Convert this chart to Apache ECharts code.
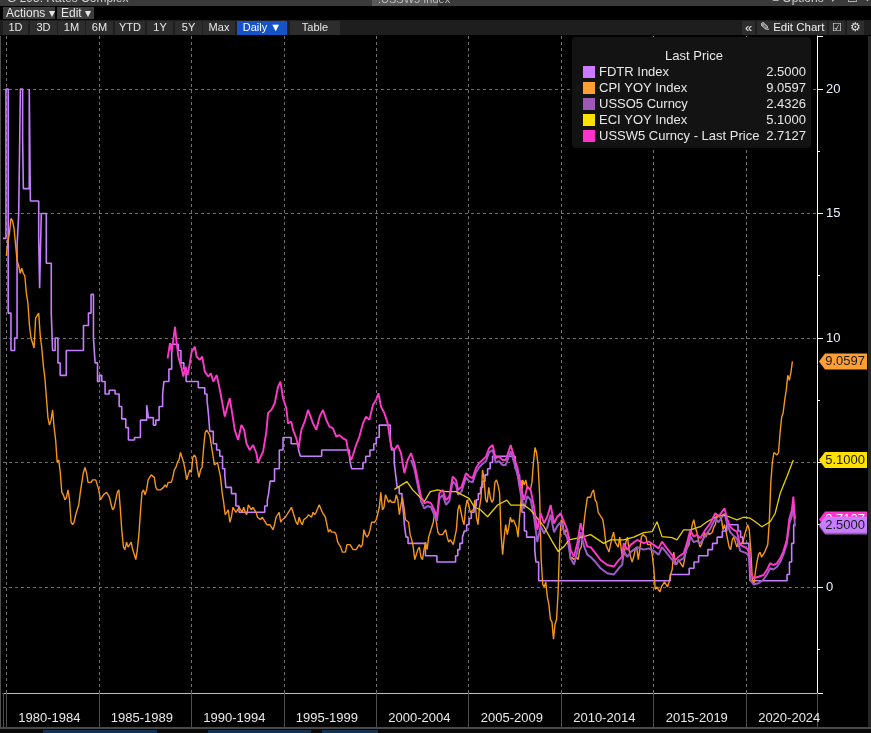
<!DOCTYPE html>
<html><head><meta charset="utf-8">
<script src="https://cdn.jsdelivr.net/npm/echarts@6/dist/echarts.min.js"></script>
<style>html,body{margin:0;padding:0;background:#000;overflow:hidden}#c{width:871px;height:733px}</style>
</head><body><div id="c"></div>
<script>
// ---------------- DATA ----------------
const periodLabels = ['1980-1984','1985-1989','1990-1994','1995-1999','2000-2004','2005-2009','2010-2014','2015-2019','2020-2024'];
const legendNames = ['FDTR Index','CPI YOY Index','USSO5 Curncy','ECI YOY Index','USSW5 Curncy - Last Price'];
const lastPrices = [2.5000, 9.0597, 2.4326, 5.1000, 2.7127];

// Fed funds target (step changes): dates (decimal years) and levels
const fdtrDates = [1979.82,1979.98,1980.10,1980.25,1980.45,1980.58,1980.67,1980.76,1980.88,1980.92,1981.24,1981.30,1981.75,1981.80,1981.89,1982.16,1982.43,1982.50,1982.64,1982.79,1982.91,1983.24,1984.17,1984.44,1984.58,1984.71,1984.80,1984.93,1985.04,1985.16,1985.34,1985.56,1985.88,1986.10,1986.24,1986.46,1986.60,1986.93,1987.25,1987.59,1987.68,1987.95,1988.08,1988.26,1988.45,1988.52,1988.79,1988.94,1989.30,1989.44,1989.60,1989.72,1990.38,1990.73,1990.85,1990.92,1991.00,1991.19,1991.37,1991.54,1991.69,1991.81,1991.87,1992.17,1992.41,1992.58,1993.97,1994.11,1994.18,1994.26,1994.50,1994.76,1994.96,1995.40,1995.80,1995.90,1997.05,1998.55,1998.59,1998.67,1999.28,1999.43,1999.66,1999.87,2000.00,2000.16,2000.76,2000.83,2000.97,2001.05,2001.13,2001.24,2001.39,2001.47,2001.52,2001.61,2001.72,2002.66,2003.28,2004.29,2004.41,2004.52,2004.66,2004.76,2004.89,2005.02,2005.14,2005.29,2005.41,2005.52,2005.64,2005.76,2005.88,2006.02,2006.16,2006.29,2007.51,2007.63,2007.75,2007.86,2007.88,2008.01,2008.13,2008.57,2008.63,2008.78,2015.90,2016.92,2017.18,2017.43,2017.93,2018.18,2018.43,2018.71,2018.95,2019.56,2019.70,2019.81,2020.15,2020.21,2022.21,2022.34,2022.46,2022.57,2022.65];
const fdtrValues = [14.0,20,11.0,9.5,10.0,13.7,15.0,20,18,16,20,15.5,14,12,15,13,11,9.5,10,9,8.5,9.5,10.5,11,11.75,10,9,8.25,8.5,8.25,7.75,7.9,7.75,7.25,6.75,6.4,5.9,6.0,6.7,7.3,6.8,6.5,6.7,7.25,7.75,8.25,8.75,9.75,9.5,9.0,8.75,8.25,8.0,7.75,7.5,7.0,6.25,5.75,5.5,5.25,4.75,4.5,4.0,3.75,3.25,3.0,3.25,3.5,3.75,4.25,4.75,5.5,6.0,5.75,5.5,5.25,5.5,5.25,5.0,4.75,5.0,5.25,5.5,5.75,6.0,6.5,6.0,5.5,5.0,4.5,4.0,3.75,3.5,3.0,2.5,2.0,1.75,1.25,1.0,1.25,1.5,1.75,2.0,2.25,2.5,2.75,3.0,3.25,3.5,3.75,4.0,4.25,4.5,4.75,5.0,5.25,4.75,4.5,4.25,3.5,3.0,2.25,2.0,1.5,1.0,0.25,0.5,0.75,1.0,1.25,1.5,1.75,2.0,2.25,2.5,2.25,2.0,1.75,1.25,0.25,0.5,1.0,1.75,2.5,2.5];

// CPI YoY, monthly, first value = Dec 1979 (plotted at month end)
const cpiFirstYear = 1980;
const cpiValues = [13.3,
13.9,14.2,14.8,14.7,14.4,14.4,13.1,12.9,12.6,12.8,12.6,12.5,
11.8,11.4,10.5,10.0,9.8,9.6,10.8,10.8,11.0,10.1,9.6,8.9,
8.4,7.6,6.8,6.5,6.7,7.1,6.4,5.9,5.0,5.1,4.6,3.8,
3.7,3.5,3.6,3.9,3.5,2.6,2.5,2.6,2.9,2.9,3.3,3.8,
4.2,4.6,4.8,4.6,4.2,4.2,4.2,4.3,4.3,4.3,4.1,3.9,
3.5,3.5,3.7,3.7,3.8,3.8,3.6,3.3,3.1,3.2,3.5,3.8,
3.9,3.1,2.2,1.6,1.5,1.8,1.6,1.6,1.8,1.5,1.3,1.1,
1.5,2.1,3.0,3.8,3.9,3.7,3.9,4.3,4.4,4.5,4.5,4.4,
4.0,3.9,3.9,3.9,3.9,4.0,4.1,4.0,4.2,4.2,4.2,4.4,
4.7,4.8,5.0,5.1,5.4,5.2,5.0,4.7,4.3,4.5,4.7,4.6,
5.2,5.3,5.2,4.7,4.4,4.7,4.8,5.6,6.2,6.3,6.3,6.1,
5.7,5.3,4.9,4.9,5.0,4.7,4.4,3.8,3.4,2.9,3.0,3.1,
2.6,2.8,3.2,3.2,3.0,3.1,3.2,3.1,3.0,3.2,3.0,2.9,
3.3,3.2,3.1,3.2,3.2,3.0,2.8,2.8,2.7,2.8,2.7,2.7,
2.5,2.5,2.5,2.4,2.3,2.5,2.8,2.9,3.0,2.6,2.7,2.7,
2.8,2.9,2.9,3.1,3.2,3.0,2.8,2.6,2.5,2.8,2.6,2.5,
2.7,2.7,2.8,2.9,2.9,2.8,3.0,2.9,3.0,3.0,3.3,3.3,
3.0,3.0,2.8,2.5,2.2,2.3,2.2,2.2,2.2,2.1,1.8,1.7,
1.6,1.4,1.4,1.4,1.7,1.7,1.7,1.6,1.5,1.5,1.5,1.6,
1.7,1.6,1.7,2.3,2.1,2.0,2.1,2.3,2.6,2.6,2.6,2.7,
2.7,3.2,3.8,3.1,3.2,3.7,3.7,3.4,3.5,3.4,3.4,3.4,
3.7,3.5,2.9,3.3,3.6,3.2,2.7,2.7,2.6,2.1,1.9,1.6,
1.1,1.1,1.5,1.6,1.2,1.1,1.5,1.8,1.5,2.0,2.2,2.4,
2.6,3.0,3.0,2.2,2.1,2.1,2.1,2.2,2.3,2.0,1.8,1.9,
1.9,1.7,1.7,2.3,3.1,3.3,3.0,2.7,2.5,3.2,3.5,3.3,
3.0,3.0,3.1,3.5,2.8,2.5,3.2,3.6,4.7,4.3,3.5,3.4,
4.0,3.6,3.4,3.5,4.2,4.3,4.1,3.8,2.1,1.3,2.0,2.5,
2.1,2.4,2.8,2.6,2.7,2.7,2.4,2.0,2.8,3.5,4.3,4.1,
4.3,4.0,4.0,3.9,4.2,5.0,5.6,5.4,4.9,3.7,1.1,0.1,
0.0,0.2,-0.4,-0.7,-1.3,-1.4,-2.1,-1.5,-1.3,-0.2,1.8,2.7,
2.6,2.1,2.3,2.2,2.0,1.1,1.2,1.1,1.1,1.2,1.1,1.5,
1.6,2.1,2.7,3.2,3.6,3.6,3.6,3.8,3.9,3.5,3.4,3.0,
2.9,2.9,2.7,2.3,1.7,1.7,1.4,1.7,2.0,2.2,1.8,1.7,
1.6,2.0,1.5,1.1,1.4,1.8,2.0,1.5,1.2,1.0,1.2,1.5,
1.6,1.1,1.5,2.0,2.1,2.1,2.0,1.7,1.7,1.7,1.3,0.8,
-0.1,0.0,-0.1,-0.2,0.0,0.1,0.2,0.2,0.0,0.2,0.5,0.7,
1.4,1.0,0.9,1.1,1.0,1.0,0.8,1.1,1.5,1.6,1.7,2.1,
2.5,2.7,2.4,2.2,1.9,1.6,1.7,1.9,2.2,2.0,2.2,2.1,
2.1,2.2,2.4,2.5,2.8,2.9,2.9,2.7,2.3,2.5,2.2,1.9,
1.6,1.5,1.9,2.0,1.8,1.6,1.8,1.7,1.7,1.8,2.1,2.3,
2.5,2.3,1.5,0.3,0.1,0.6,1.0,1.3,1.4,1.2,1.2,1.4,
1.4,1.7,2.6,4.2,5.0,5.4,5.4,5.3,5.4,6.2,6.8,7.0,
7.5,7.9,8.5,8.3,8.6,9.0597];

// ECI YoY
const eciDates = [2000.98,2001.66,2001.97,2002.33,2002.60,2002.92,2003.32,2003.77,2004.31,2004.67,2005.02,2005.29,2005.65,2006.02,2006.56,2007.06,2007.27,2007.63,2007.99,2008.35,2008.71,2009.07,2009.52,2009.84,2010.15,2010.42,2010.87,2011.23,2011.59,2012.30,2012.67,2013.38,2013.92,2014.46,2014.91,2015.18,2015.45,2015.99,2016.26,2016.62,2016.98,2017.52,2017.88,2018.33,2018.78,2019.14,2019.50,2019.86,2020.22,2020.49,2020.85,2021.30,2021.57,2021.84,2022.20,2022.55];
const eciValues = [3.92,4.23,3.9,3.63,3.43,3.83,3.9,3.83,3.83,3.69,3.56,3.22,3.09,2.82,3.29,3.49,3.29,3.29,3.29,3.09,2.76,2.42,1.82,1.42,1.62,1.89,1.96,2.02,2.1,1.75,1.89,1.89,2.0,2.18,2.22,2.62,2.02,1.98,1.89,2.29,2.29,2.42,2.62,2.8,2.89,2.8,2.69,2.8,2.76,2.62,2.42,2.62,2.96,3.76,4.43,5.1];

// USSW5 (5y swap)
const ussw5Dates = [1988.72,1988.85,1988.94,1989.12,1989.21,1989.30,1989.39,1989.48,1989.57,1989.69,1989.80,1989.92,1990.02,1990.19,1990.29,1990.46,1990.59,1990.73,1990.92,1991.06,1991.19,1991.37,1991.49,1991.60,1991.81,1992.00,1992.08,1992.21,1992.35,1992.53,1992.71,1992.86,1992.98,1993.16,1993.34,1993.52,1993.61,1993.75,1993.88,1994.06,1994.15,1994.33,1994.51,1994.69,1994.82,1994.96,1995.14,1995.23,1995.41,1995.50,1995.68,1995.80,1995.95,1996.13,1996.31,1996.45,1996.58,1996.76,1996.94,1997.12,1997.30,1997.47,1997.66,1997.84,1998.01,1998.20,1998.38,1998.50,1998.65,1998.74,1998.91,1999.09,1999.28,1999.45,1999.63,1999.82,1999.99,2000.12,2000.26,2000.44,2000.62,2000.80,2000.98,2001.16,2001.34,2001.52,2001.70,2001.88,2002.06,2002.24,2002.42,2002.60,2002.78,2002.96,2003.14,2003.28,2003.41,2003.59,2003.77,2003.95,2004.13,2004.31,2004.43,2004.62,2004.85,2005.02,2005.21,2005.39,2005.56,2005.75,2005.93,2006.10,2006.29,2006.46,2006.64,2006.83,2007.00,2007.27,2007.45,2007.64,2007.81,2007.99,2008.17,2008.35,2008.53,2008.71,2008.89,2009.07,2009.25,2009.43,2009.61,2009.79,2009.97,2010.15,2010.33,2010.51,2010.69,2010.87,2011.05,2011.23,2011.41,2011.59,2011.86,2012.13,2012.49,2012.85,2013.11,2013.30,2013.38,2013.57,2013.75,2014.11,2014.46,2014.73,2015.00,2015.27,2015.45,2015.72,2015.99,2016.17,2016.35,2016.62,2016.80,2016.98,2017.16,2017.34,2017.52,2017.79,2018.06,2018.33,2018.51,2018.69,2018.83,2018.96,2019.14,2019.32,2019.50,2019.68,2019.86,2020.04,2020.18,2020.25,2020.40,2020.67,2020.94,2021.12,2021.30,2021.47,2021.66,2021.84,2022.01,2022.20,2022.34,2022.47,2022.55,2022.64];
const ussw5Values = [9.18,9.79,9.45,10.45,9.8,9.25,9.0,8.78,8.45,8.85,8.51,8.98,9.45,9.65,9.25,9.12,9.25,8.65,8.45,8.58,8.25,8.51,8.11,7.71,6.84,7.38,7.58,6.98,6.31,5.9,6.51,6.31,5.77,5.5,5.7,5.37,4.97,5.23,5.43,6.24,6.98,7.11,7.38,8.04,8.25,7.58,7.18,6.57,6.64,6.31,5.97,5.57,6.31,6.64,7.11,6.84,6.57,6.31,6.84,7.11,6.71,6.44,6.37,6.04,6.1,5.97,5.9,5.37,5.1,5.3,5.7,6.04,6.57,6.84,6.71,7.31,7.51,7.78,7.24,6.98,6.57,5.64,5.5,5.7,5.37,4.57,5.1,5.37,4.97,4.3,3.63,3.36,3.43,3.36,3.09,2.82,3.76,3.9,3.49,3.63,4.43,4.3,3.9,4.03,4.57,4.43,4.37,4.77,4.97,5.1,5.23,5.57,5.7,5.17,5.23,5.1,5.1,5.7,5.23,4.77,4.03,3.49,4.03,3.9,3.22,2.29,2.96,2.56,2.82,3.29,2.56,2.82,2.96,2.62,2.29,1.49,1.22,1.76,2.56,2.02,1.62,1.6,1.35,1.08,0.88,0.82,1.08,1.22,1.76,1.49,1.69,1.89,1.76,1.82,1.69,1.55,1.82,1.55,1.29,1.08,1.22,1.35,1.76,2.29,2.02,2.09,1.96,2.29,2.56,2.96,2.82,3.02,3.16,2.76,2.42,2.29,2.22,1.69,1.62,1.55,1.35,0.55,0.35,0.41,0.48,0.68,0.95,0.88,0.95,1.15,1.42,1.89,2.76,3.09,3.63,2.7127];

// USSO5 (5y OIS)
const usso5Dates = [2001.88,2002.06,2002.24,2002.42,2002.60,2002.78,2002.96,2003.14,2003.28,2003.41,2003.59,2003.77,2003.95,2004.13,2004.31,2004.43,2004.62,2004.85,2005.02,2005.21,2005.39,2005.56,2005.75,2005.93,2006.10,2006.29,2006.46,2006.64,2006.83,2007.00,2007.27,2007.45,2007.64,2007.81,2007.99,2008.17,2008.35,2008.53,2008.71,2008.89,2009.07,2009.25,2009.43,2009.61,2009.79,2009.97,2010.15,2010.33,2010.51,2010.69,2010.87,2011.05,2011.23,2011.41,2011.59,2011.86,2012.13,2012.49,2012.85,2013.11,2013.30,2013.38,2013.57,2013.75,2014.11,2014.46,2014.73,2015.00,2015.27,2015.45,2015.72,2015.99,2016.17,2016.35,2016.62,2016.80,2016.98,2017.16,2017.34,2017.52,2017.79,2018.06,2018.33,2018.51,2018.69,2018.83,2018.96,2019.14,2019.32,2019.50,2019.68,2019.86,2020.04,2020.18,2020.25,2020.40,2020.67,2020.94,2021.12,2021.30,2021.47,2021.66,2021.84,2022.01,2022.20,2022.34,2022.47,2022.55,2022.64];
const usso5Values = [5.1,4.75,4.1,3.45,3.15,3.25,3.2,2.9,2.65,3.55,3.7,3.3,3.45,4.25,4.1,3.7,3.85,4.4,4.25,4.2,4.6,4.8,4.95,5.05,5.4,5.5,5.0,5.05,4.9,4.9,5.45,5.0,4.5,3.75,3.15,3.65,3.5,2.8,1.8,2.45,2.15,2.4,2.9,2.2,2.45,2.6,2.25,1.95,1.15,0.9,1.4,2.2,1.65,1.3,1.2,1.0,0.75,0.55,0.5,0.75,0.9,1.45,1.2,1.4,1.6,1.5,1.55,1.45,1.3,1.6,1.35,1.1,0.9,1.05,1.15,1.55,2.05,1.8,1.85,1.75,2.05,2.35,2.75,2.6,2.8,2.95,2.55,2.2,2.05,1.95,1.45,1.4,1.35,1.15,0.25,0.1,0.15,0.3,0.5,0.75,0.7,0.8,1.0,1.3,1.75,2.55,2.85,3.3,2.4326];

// ---------------- STYLE ----------------
const C = {fdtr:'#c77dff', cpi:'#f7941d', usso5:'#9a5cc8', eci:'#e8cf00', ussw5:'#ff38cc'};
const legendColors = ['#cc7aff','#ff9f33','#9b59b6','#ffe100','#ff33cc'];
const FONT = '"Liberation Sans", Arial, sans-serif';

const pairs = (xs, ys) => xs.map((x, i) => [x, ys[i]]);
const cpiData = cpiValues.map((v, i) => [cpiFirstYear + i / 12, v]);

const chart = echarts.init(document.getElementById('c'), null, {renderer: 'canvas'});
const dash = {color: '#6f6f6f', type: [3, 3], width: 1};

chart.setOption({
  backgroundColor: '#000',
  animation: false,
  grid: {left: 1, right: 54, top: 36, bottom: 40},
  xAxis: {
    type: 'value', min: 1979.82, max: 2023.83, splitNumber: 9,
    axisLine: {show: true, onZero: false, lineStyle: {color: '#bdbdbd'}},
    axisTick: {show: true, length: 34, lineStyle: {color: '#4d4d4d'}},
    axisLabel: {
      formatter: v => { const k = (v - 1980) / 5; return (Number.isInteger(k) && periodLabels[k]) ? periodLabels[k] : ''; },
      align: 'left', padding: [0, 0, 0, 12], margin: 19, color: '#e8e8e8', fontSize: 13, fontFamily: FONT,
      showMinLabel: true, showMaxLabel: true
    },
    splitLine: {show: true, showMinLine: false, showMaxLine: false, lineStyle: dash}
  },
  yAxis: {
    type: 'value', position: 'right', min: -4.26, max: 22.13, splitNumber: 5,
    axisLine: {show: true, onZero: false, lineStyle: {color: '#ffffff'}},
    axisTick: {show: true, length: 6, lineStyle: {color: '#ffffff'}},
    minorTick: {show: true, splitNumber: 2, length: 3, lineStyle: {color: '#ffffff'}},
    axisLabel: {formatter: v => (Math.abs(v % 5) < 1e-9 ? String(v) : ''), color: '#eaf2ff', fontSize: 13, fontFamily: FONT, margin: 9},
    splitLine: {show: true, showMinLine: false, showMaxLine: false, lineStyle: dash}
  },
  series: [
    {name: legendNames[0], type: 'line', step: 'end', data: pairs(fdtrDates, fdtrValues), symbol: 'none', lineStyle: {color: C.fdtr, width: 1.6}, z: 2},
    {name: legendNames[1], type: 'line', data: cpiData, symbol: 'none', lineStyle: {color: C.cpi, width: 1.4}, z: 3},
    {name: legendNames[2], type: 'line', data: pairs(usso5Dates, usso5Values), symbol: 'none', lineStyle: {color: C.usso5, width: 2}, z: 4},
    {name: legendNames[3], type: 'line', data: pairs(eciDates, eciValues), symbol: 'none', lineStyle: {color: C.eci, width: 1.3}, z: 5},
    {name: legendNames[4], type: 'line', data: pairs(ussw5Dates, ussw5Values), symbol: 'none', lineStyle: {color: C.ussw5, width: 1.9}, z: 6}
  ]
});

// ---------------- GRAPHICS (chrome, legend, value tags) ----------------
function txt(x, y, s, fill, size, align, valign, extra) {
  return Object.assign({type: 'text', x: x, y: y, z: 100, style: {text: s, fill: fill, font: size + 'px ' + FONT,
    align: align || 'left', textAlign: align || 'left', verticalAlign: valign || 'middle', textVerticalAlign: valign || 'middle'}}, extra || {});
}
function rect(x, y, w, h, fill, r, z) {
  return {type: 'rect', z: z || 90, shape: {x: x, y: y, width: w, height: h, r: r || 0}, style: {fill: fill}};
}
const g = [];
// title strip (cut at top)
g.push(rect(0, 0, 871, 6, '#3a3a3a'));
g.push(txt(7, 5, 'G 295: Rates Complex', '#d0d0d0', 12, 'left', 'bottom'));
g.push(rect(372, 0, 66, 6, '#5a5a5a'));
g.push(txt(378, 5, '.USSW5 Index', '#bdbdbd', 11, 'left', 'bottom'));
g.push(txt(772, 5, '\u2261 Options  \u2197  \u2610  \u2715', '#d0d0d0', 12, 'left', 'bottom'));
g.push(rect(0, 6, 871, 14, '#000'));
g.push(rect(3, 7, 52, 12, '#3c3c3c'));
g.push(txt(6, 13.5, 'Actions \u25be', '#e6e6e6', 12));
g.push(rect(57, 7, 37, 12, '#3c3c3c'));
g.push(txt(61, 13.5, 'Edit \u25be', '#e6e6e6', 12));
// toolbar
g.push(rect(0, 20, 871, 15, '#1e1e1e'));
[[3,25,'1D'],[30,27,'3D'],[58,27,'1M'],[86,27,'6M'],[115,30,'YTD'],[147,26,'1Y'],[175,27,'5Y'],[203,32,'Max'],[290,50,'Table']].forEach(b => {
  g.push(rect(b[0], 21, b[1], 14, '#2d2d2d'));
  g.push(txt(b[0] + b[1] / 2, 28, b[2], '#e8e8e8', 11, 'center'));
});
g.push(rect(237, 21, 50, 14, '#1553c6'));
g.push(txt(262, 28, 'Daily \u25bc', '#ffffff', 11, 'center'));
g.push(rect(742, 21, 13, 14, '#2d2d2d'));
g.push(txt(748.5, 28, '\u00ab', '#e8e8e8', 13, 'center'));
g.push(rect(757, 21, 70, 14, '#2d2d2d'));
g.push(txt(760, 28, '\u270e Edit Chart', '#f0f0f0', 11.5, 'left'));
g.push(rect(829, 21, 16, 14, '#2d2d2d'));
g.push(txt(837, 28, '\u2611', '#e0e0e0', 11, 'center'));
g.push(rect(847, 21, 17, 14, '#2d2d2d'));
g.push(txt(855.5, 28, '\u2699', '#e0e0e0', 12, 'center'));
// frame bits
g.push(rect(0, 36, 1, 691, '#4f4f4f'));
g.push(rect(868, 36, 3, 692, '#262626'));
g.push(rect(0, 727, 871, 2, '#4a4a4a'));
g.push(rect(0, 729, 871, 4, '#080808'));
g.push(rect(43, 730, 114, 3, '#12304f'));
g.push(rect(208, 730, 103, 3, '#12304f'));
g.push(rect(322, 730, 56, 3, '#12304f'));
// legend box
g.push(rect(572, 37, 239, 111, '#131313', 4, 95));
g.push(txt(694, 56, 'Last Price', '#e8e8e8', 13, 'center', 'middle', {z: 101}));
legendNames.forEach((n, i) => {
  const y = 72 + i * 16;
  g.push(Object.assign(rect(583, y - 6, 12, 12, legendColors[i]), {z: 101}));
  g.push(txt(599, y, n, '#e8e8e8', 13, 'left', 'middle', {z: 101}));
  g.push(txt(806, y, lastPrices[i].toFixed(4), '#e8e8e8', 13, 'right', 'middle', {z: 101}));
});
// value tags on the right axis (order: hidden ones first)
const tagOrder = [[2, '#9b59b6', '#1a1a1a'], [4, '#ff33cc', '#ffffff'], [0, '#c77dff', '#1a1a1a'], [3, '#ffe100', '#1a1a1a'], [1, '#ff9f33', '#1a1a1a']];
tagOrder.forEach((t, j) => {
  const v = lastPrices[t[0]];
  const y = chart.convertToPixel({yAxisIndex: 0}, v);
  g.push({type: 'polygon', z: 110 + j * 2, shape: {points: [[819, y], [825, y - 8], [867, y - 8], [867, y + 8], [825, y + 8]]}, style: {fill: t[1]}});
  g.push(txt(865, y + 0.5, v.toFixed(4), t[2], 13, 'right', 'middle', {z: 111 + j * 2}));
});
chart.setOption({graphic: {elements: g}});
</script>
</body></html>
